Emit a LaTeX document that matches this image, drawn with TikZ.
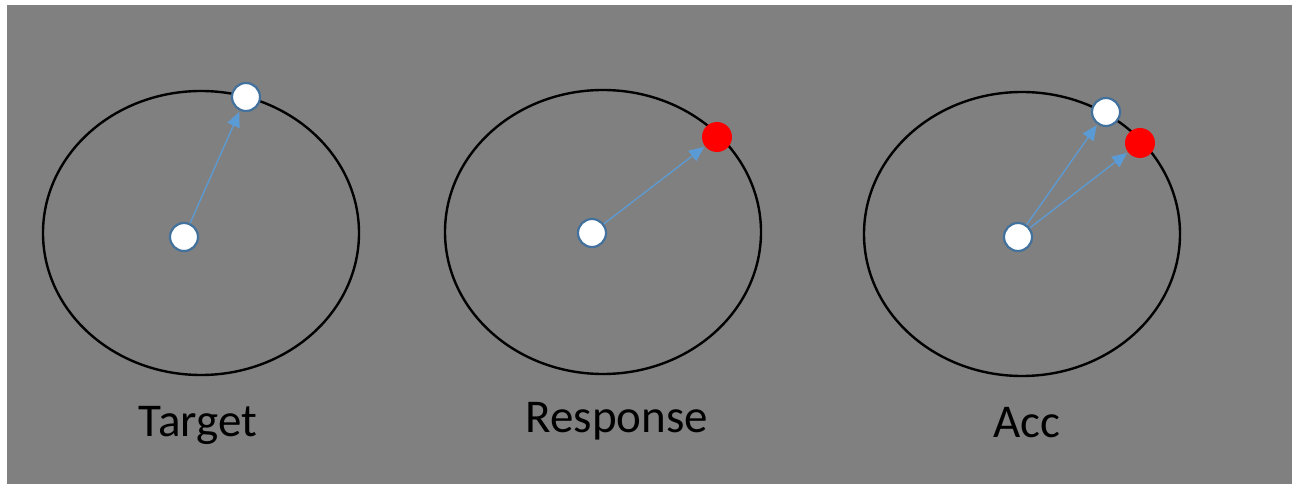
\documentclass[tikz,border=0pt]{standalone}
\usepackage{fontspec}
\setmainfont{Carlito}
\usetikzlibrary{arrows.meta}
\definecolor{bg}{HTML}{808080}
\definecolor{dotline}{HTML}{41719C}
\definecolor{vecblue}{HTML}{5B9BD5}
\begin{document}
\begin{tikzpicture}[x=1pt, y=-1pt]
    \tikzstyle{ring}=[draw=black, line width=2.4pt]
    \tikzstyle{wdot}=[circle, fill=white, draw=dotline, line width=2.2pt, minimum size=28pt, inner sep=0pt]
    \tikzstyle{rdot}=[circle, fill=red, minimum size=30pt, inner sep=0pt]
    \tikzstyle{vec}=[draw=vecblue, line width=1.3pt, -{Triangle[length=15pt, width=13pt]}, shorten >=1pt]
    \tikzstyle{lbl}=[font=\fontsize{47}{50}\selectfont, text=black]
    \fill[white] (0,0) rectangle (1301,486);
    \useasboundingbox (0,0) rectangle (1301,486);
    \fill[bg] (7,5) rectangle (1292,484);
    % Target
    \draw[ring] (201,233) ellipse (158 and 142);
    \node[wdot] (t0) at (184,237) {};
    \node[wdot] (t1) at (246,97) {};
    \draw[vec] (t0) -- (t1);
    \node[lbl, anchor=base] (tl) at (198,436) {Target};
    % Response
    \draw[ring] (603,232) ellipse (158 and 142);
    \node[wdot] (r0) at (592,233) {};
    \node[rdot] (r1) at (717,137) {};
    \draw[vec] (r0) -- (r1);
    \node[lbl, anchor=base] (rl) at (617,432) {Response};
    % Acc
    \draw[ring] (1022,234) ellipse (158 and 142);
    \node[wdot] (a0) at (1018,237) {};
    \node[wdot] (a1) at (1106,112) {};
    \node[rdot] (a2) at (1140,143) {};
    \draw[vec] (a0) -- (a1);
    \draw[vec] (a0) -- (a2);
    \node[lbl, anchor=base] (al) at (1027,437) {Acc};
\end{tikzpicture}
\end{document}
